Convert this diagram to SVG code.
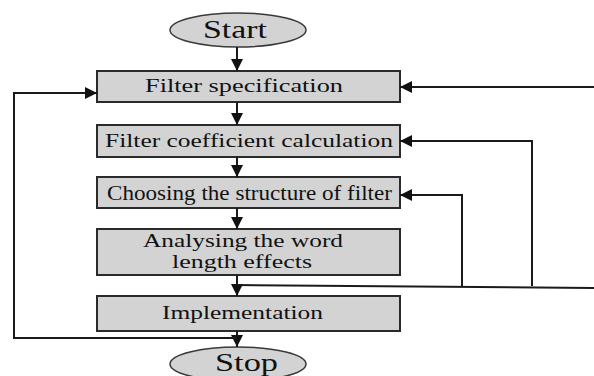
<svg xmlns="http://www.w3.org/2000/svg" width="594" height="376" viewBox="0 0 594 376">
<style>
.box{fill:#d3d3d3;stroke:#2a2a2a;stroke-width:2}
.term{fill:#d3d3d3;stroke:#3a3a3a;stroke-width:1.5}
.t{font-family:"Liberation Serif","Times New Roman",serif;fill:#111}
.c{fill:none;stroke:#1a1a1a;stroke-width:2}
</style>
<defs>
<marker id="ah" markerUnits="userSpaceOnUse" markerWidth="12" markerHeight="12" viewBox="0 0 10 10" refX="10" refY="5" orient="auto">
<path d="M0,0 L10,5 L0,10 Z" fill="#111"/>
</marker>
</defs>
<g id="start">
<ellipse class="term" cx="238" cy="30" rx="68" ry="17"/>
<text class="t" x="203" y="38" font-size="26" textLength="64" lengthAdjust="spacingAndGlyphs">Start</text>
</g>
<g id="spec">
<rect class="box" x="97" y="71" width="303" height="31"/>
<text class="t" x="145" y="92" font-size="19.5" textLength="198" lengthAdjust="spacingAndGlyphs">Filter specification</text>
</g>
<g id="coef">
<rect class="box" x="97" y="125" width="303" height="32"/>
<text class="t" x="105" y="147" font-size="19" textLength="288" lengthAdjust="spacingAndGlyphs">Filter coefficient calculation</text>
</g>
<g id="struct">
<rect class="box" x="97" y="177" width="303" height="31"/>
<text class="t" x="107" y="200" font-size="22" textLength="285" lengthAdjust="spacingAndGlyphs">Choosing the structure of filter</text>
</g>
<g id="analyse">
<rect class="box" x="97" y="229" width="303" height="46"/>
<text class="t" x="143" y="247" font-size="19.5" textLength="200" lengthAdjust="spacingAndGlyphs">Analysing the word</text>
<text class="t" x="172" y="268" font-size="19.5" textLength="140" lengthAdjust="spacingAndGlyphs">length effects</text>
</g>
<g id="impl">
<rect class="box" x="97" y="296" width="303" height="35"/>
<text class="t" x="162" y="319" font-size="19.5" textLength="161" lengthAdjust="spacingAndGlyphs">Implementation</text>
</g>
<g id="stop">
<ellipse class="term" cx="238" cy="364" rx="68" ry="17"/>
<text class="t" x="215" y="371" font-size="26" textLength="63" lengthAdjust="spacingAndGlyphs">Stop</text>
</g>
<g id="connectors">
<line class="c" x1="237" y1="47" x2="237" y2="71" marker-end="url(#ah)"/>
<line class="c" x1="237" y1="102" x2="237" y2="125" marker-end="url(#ah)"/>
<line class="c" x1="237" y1="157" x2="237" y2="177" marker-end="url(#ah)"/>
<line class="c" x1="237" y1="208" x2="237" y2="229" marker-end="url(#ah)"/>
<line class="c" x1="237" y1="275" x2="237" y2="296" marker-end="url(#ah)"/>
<line class="c" x1="237" y1="331" x2="237" y2="347" marker-end="url(#ah)"/>
<polyline class="c" points="237,338 14,338 14,93 97,93" marker-end="url(#ah)"/>
<line class="c" x1="594" y1="87" x2="400" y2="87" marker-end="url(#ah)"/>
<polyline class="c" points="532,286 532,141 400,141" marker-end="url(#ah)"/>
<polyline class="c" points="462,286 462,195 400,195" marker-end="url(#ah)"/>
<line class="c" x1="237" y1="285" x2="594" y2="288"/>
</g>
</svg>
